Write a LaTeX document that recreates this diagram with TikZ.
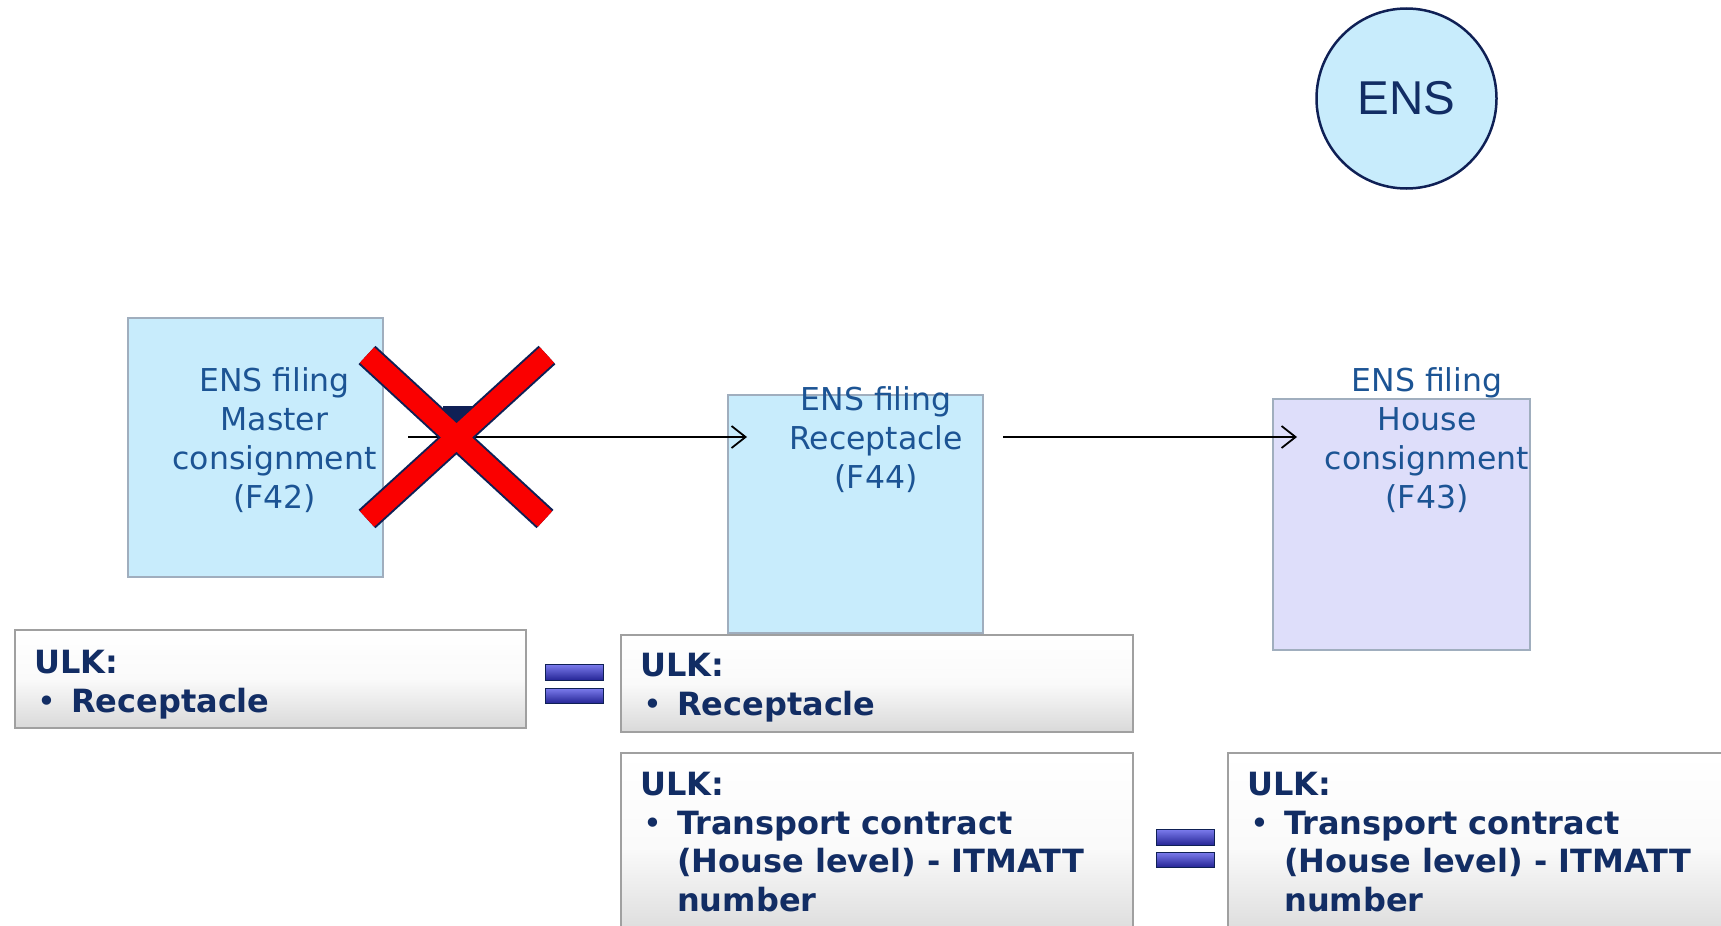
\documentclass[tikz,border=0pt]{standalone}
\usepackage{fontspec}
\setmainfont{DejaVu Sans}
\newfontfamily\arialfont{Liberation Sans}
\usetikzlibrary{arrows.meta}

\definecolor{filetxt}{RGB}{28,84,148}
\definecolor{ulktxt}{RGB}{18,45,100}
\definecolor{skyfill}{RGB}{200,236,252}
\definecolor{lavfill}{RGB}{222,222,250}
\definecolor{boxedge}{RGB}{160,174,190}
\definecolor{ulkedge}{RGB}{160,160,160}
\definecolor{navy}{RGB}{15,32,85}
\definecolor{eqtop}{RGB}{125,125,238}
\definecolor{eqbot}{RGB}{38,38,150}
\definecolor{crossred}{RGB}{250,0,0}

\newcommand\blt{\makebox[37pt][l]{\mdseries\hspace{3pt}•}}
\newcommand\ind{\hspace*{37pt}}

\begin{document}
\begin{tikzpicture}
  [x=1pt,y=-1pt,
   filebox/.style={draw=boxedge,line width=2pt,inner sep=0pt},
   filetext/.style={text=filetxt,align=center,inner sep=0pt,
     font=\fontsize{31.5}{39}\selectfont},
   ulkbox/.style={draw=ulkedge,line width=1.5pt,inner sep=0pt,
     top color=white,bottom color=gray!30,middle color=white!96!gray},
   ulktext/.style={text=ulktxt,align=left,inner sep=0pt,anchor=north west,
     font=\bfseries\fontsize{32}{38.5}\selectfont},
   eqbar/.style={draw=navy,line width=0.8pt,top color=eqtop,bottom color=eqbot},
   flow/.style={-{Straight Barb[length=14pt,width=22pt]},line width=1.8pt}]

  \useasboundingbox (0,0) rectangle (1721,926);

  % ENS circle
  \node[circle,draw=navy,line width=2.5pt,fill=skyfill,minimum size=180pt,
        text=ulktxt,font=\arialfont\fontsize{47.5}{50}\selectfont] (ens) at (1406.5,98.5) {ENS};

  % filings
  \node[filebox,fill=skyfill,minimum width=255pt,minimum height=259pt] (f42) at (255.5,447.5) {};
  \node[filebox,fill=skyfill,minimum width=255pt,minimum height=238pt] (f44) at (855.5,514) {};
  \node[filebox,fill=lavfill,minimum width=257pt,minimum height=251pt] (f43) at (1401.5,524.5) {};

  \node[filetext] (mast) at (274.5,440) {ENS filing\\Master\\consignment\\(F42)};
  \node[filetext] (recv) at (876,440) {ENS filing\\Receptacle\\(F44)};
  \node[filetext] (hous) at (1427,440) {ENS filing\\House\\consignment\\(F43)};

  \draw[flow] ([xshift=24pt,yshift=3pt]f42.east |- recv.center) -- ([xshift=20pt,yshift=3pt]f44.west |- recv.center);
  \draw[flow] ([xshift=19pt,yshift=3pt]f44.east |- recv.center) -- ([xshift=25pt,yshift=3pt]f43.west |- recv.center);

  % crossed out
  \fill[navy] (443,406) rectangle (472,430);
  \draw[navy,line width=25pt] (367,355) -- (545,519) (367,519) -- (547,355);
  \draw[crossred,line width=21pt] (367,355) -- (545,519) (367,519) -- (547,355);

  % ULK boxes
  \node[ulkbox,minimum width=511pt,minimum height=98pt] (u1) at (270.5,679) {};
  \node[ulkbox,minimum width=512pt,minimum height=97pt] (u2) at (877,683.5) {};
  \node[ulkbox,minimum width=512pt,minimum height=190pt] (u3) at (877,848) {};
  \node[ulkbox,minimum width=512pt,minimum height=190pt] (u4) at (1484,848) {};

  \node[ulktext] (k1) at (34,650) {ULK:\\\blt Receptacle};
  \node[ulktext] (k2) at (640,653) {ULK:\\\blt Receptacle};
  \node[ulktext] (k3) at (640,772) {ULK:\\\blt Transport contract\\\ind(House level) - ITMATT\\\ind number};
  \node[ulktext] (k4) at (1247,772) {ULK:\\\blt Transport contract\\\ind(House level) - ITMATT\\\ind number};

  % equal signs
  \foreach \x/\ya/\yb in {545/664/688,1156/829/852}{
    \draw[eqbar] (\x,\ya) rectangle ++(58,16);
    \draw[eqbar] (\x,\yb) rectangle ++(58,15);
  }
\end{tikzpicture}
\end{document}
